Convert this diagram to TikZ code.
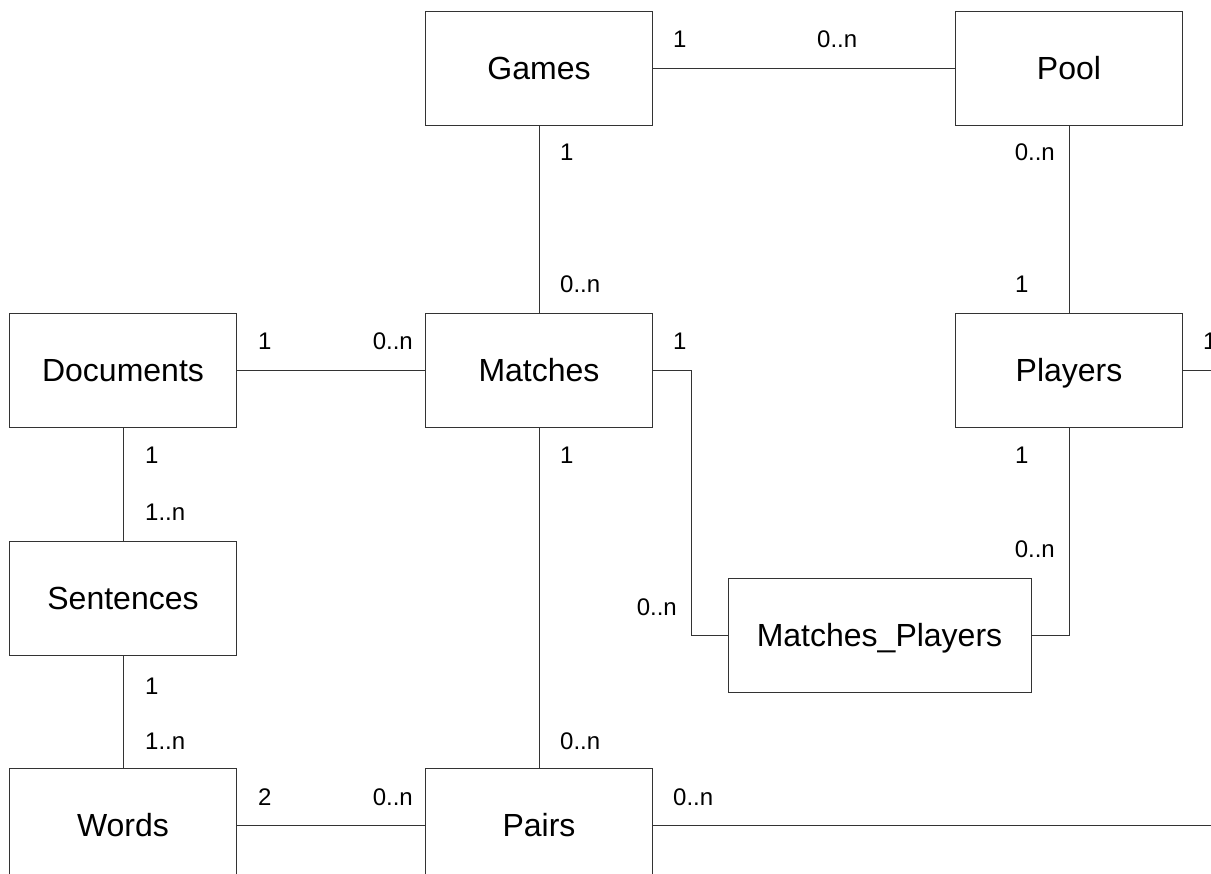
\documentclass[tikz,border=0pt]{standalone}
\usepackage{fontspec}
\setmainfont{Liberation Sans}
\usepackage{tikz}
\usetikzlibrary{positioning, calc}

\begin{document}
\begin{tikzpicture}[
    x=1pt, y=-1pt,
    entity/.style={rectangle, draw=black!80, line width=0.9pt, minimum width=227pt, minimum height=114pt, align=center, inner sep=0pt, text height=23pt, text depth=0pt, font=\fontsize{32}{38}\selectfont},
    card/.style={inner sep=0pt, font=\fontsize{24}{28}\selectfont},
    link/.style={draw=black!80, line width=0.9pt}
]
    \useasboundingbox (0,0) rectangle (1211,874);
    \clip (0,0) rectangle (1211,874);

    \node[entity] (games) at (539,68) {Games};
    \node[entity] (pool) at (1069,68) {Pool};
    \node[entity] (documents) at (123,370) {Documents};
    \node[entity] (matches) at (539,370) {Matches};
    \node[entity] (players) at (1069,370) {Players};
    \node[entity] (sentences) at (123,598) {Sentences};
    \node[entity, minimum width=303pt] (matchplayers) at (879.5,635) {Matches\_Players};
    \node[entity] (words) at (123,825) {Words};
    \node[entity] (pairs) at (539,825) {Pairs};

    \coordinate (playersout) at (1211,370);
    \coordinate (pairsout) at (1211,825);

    \draw[link] (games) -- (pool);
    \draw[link] (games) -- (matches);
    \draw[link] (pool) -- (players);
    \draw[link] (documents) -- (matches);
    \draw[link] (documents) -- (sentences);
    \draw[link] (sentences) -- (words);
    \draw[link] (matches) -- (pairs);
    \draw[link] (words) -- (pairs);
    \draw[link] (pairs.east) -- (pairsout);
    \draw[link] (players.east) -- (playersout);
    \draw[link] (matches.east) -- ++(38,0) |- (matchplayers.west);
    \draw[link] (players.south) |- (matchplayers.east);

    % cardinalities
    \node[card, anchor=base west] (c1) at (673,48) {1};
    \node[card, anchor=base west] (c2) at (817,48) {0..n};
    \node[card, anchor=base west] (c3) at (560,161) {1};
    \node[card, anchor=base west] (c4) at (560,293) {0..n};
    \node[card, anchor=base east] (c5) at (1055,161) {0..n};
    \node[card, anchor=base west] (c6) at (1015,293) {1};
    \node[card, anchor=base west] (c7) at (258,350) {1};
    \node[card, anchor=base east] (c8) at (413,350) {0..n};
    \node[card, anchor=base west] (c9) at (673,350) {1};
    \node[card, anchor=base west] (c10) at (1203,350) {1};
    \node[card, anchor=base west] (c11) at (145,464) {1};
    \node[card, anchor=base west] (c12) at (145,521) {1..n};
    \node[card, anchor=base west] (c13) at (560,464) {1};
    \node[card, anchor=base west] (c14) at (1015,464) {1};
    \node[card, anchor=base east] (c15) at (1055,558) {0..n};
    \node[card, anchor=base east] (c16) at (677,615) {0..n};
    \node[card, anchor=base west] (c17) at (145,694) {1};
    \node[card, anchor=base west] (c18) at (145,749) {1..n};
    \node[card, anchor=base west] (c19) at (560,749) {0..n};
    \node[card, anchor=base west] (c20) at (258,805) {2};
    \node[card, anchor=base east] (c21) at (413,805) {0..n};
    \node[card, anchor=base west] (c22) at (673,805) {0..n};
\end{tikzpicture}
\end{document}
